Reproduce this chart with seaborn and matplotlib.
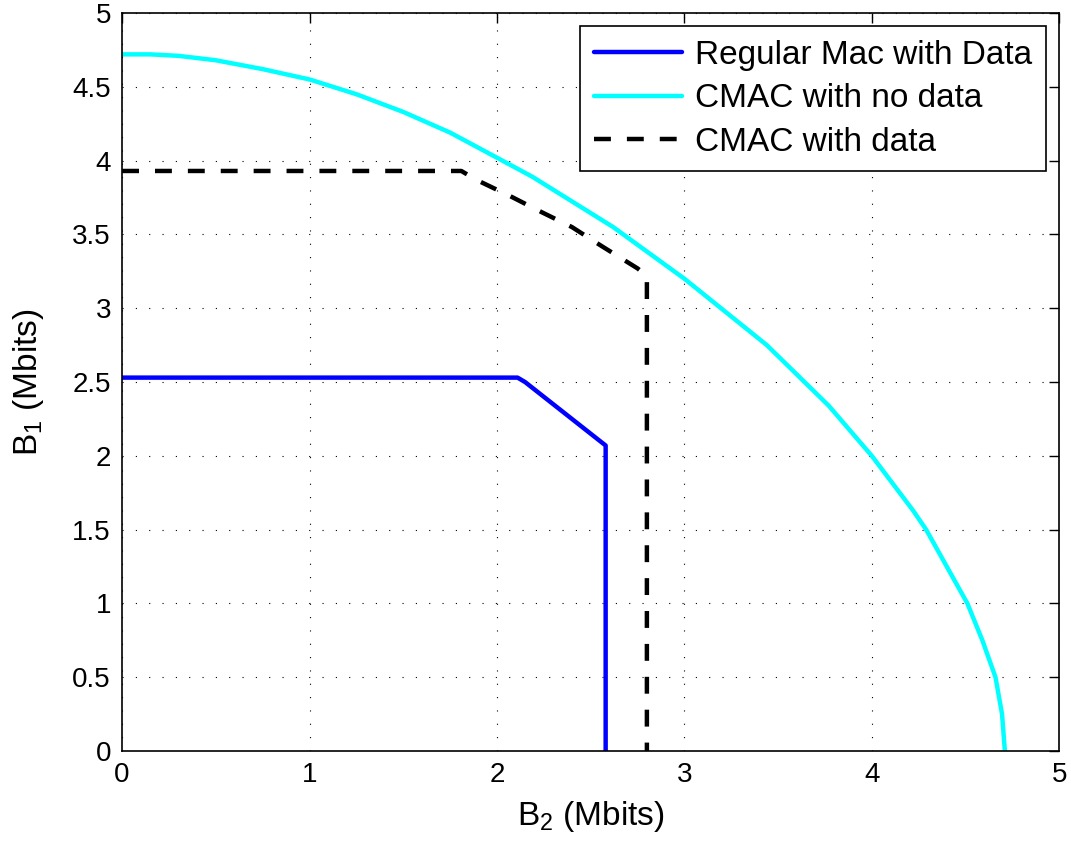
import pandas as pd
import matplotlib
matplotlib.use("Agg")
import matplotlib.pyplot as plt
import seaborn as sns

# --- Data ---
regular_x = [0.0, 2.11, 2.15, 2.58, 2.58]
regular_y = [2.53, 2.53, 2.50, 2.07, 0.0]

cmac_nodata_x = [0.0, 0.15, 0.3, 0.5, 0.75, 1.0, 1.25, 1.5, 1.75, 2.0, 2.19, 2.62,
                 3.0, 3.44, 3.77, 4.0, 4.22, 4.29, 4.4, 4.51, 4.59, 4.66, 4.695, 4.71]
cmac_nodata_y = [4.72, 4.72, 4.71, 4.68, 4.62, 4.55, 4.45, 4.33, 4.19, 4.02, 3.89, 3.55,
                 3.2, 2.75, 2.34, 2.0, 1.63, 1.5, 1.25, 1.0, 0.75, 0.5, 0.25, 0.0]

cmac_data_x = [0.0, 1.81, 1.89, 2.07, 2.24, 2.40, 2.56, 2.75, 2.80, 2.80]
cmac_data_y = [3.93, 3.93, 3.87, 3.76, 3.65, 3.55, 3.42, 3.27, 3.22, 0.0]

series_names = ["Regular Mac with Data", "CMAC with no data", "CMAC with data"]

frames = []
for name, xs, ys in zip(series_names,
                        [regular_x, cmac_nodata_x, cmac_data_x],
                        [regular_y, cmac_nodata_y, cmac_data_y]):
    frames.append(pd.DataFrame({"B2": xs, "B1": ys, "series": name}))
df = pd.concat(frames, ignore_index=True)

sns.set_style("white")
plt.rcParams["font.family"] = ["Liberation Sans", "DejaVu Sans"]
plt.rcParams["mathtext.default"] = "regular"
for key in ["text.color", "axes.labelcolor", "xtick.color", "ytick.color"]:
    plt.rcParams[key] = "black"

fig = plt.figure(figsize=(10.71, 8.52), dpi=100)
ax = fig.add_axes([0.114, 0.1185, 0.875, 0.8662])

palette = {"Regular Mac with Data": "#0000ff",
           "CMAC with no data": "#00ffff",
           "CMAC with data": "#000000"}
sns.lineplot(data=df, x="B2", y="B1", hue="series", style="series",
             palette=palette, sort=False, estimator=None, lw=3.2,
             dashes={"Regular Mac with Data": "", "CMAC with no data": "",
                     "CMAC with data": (3.8, 3.6)},
             hue_order=series_names, ax=ax)

ax.set_xlim(0, 5)
ax.set_ylim(0, 5)
ax.set_xticks([0, 1, 2, 3, 4, 5])
ax.set_xticklabels(["0", "1", "2", "3", "4", "5"])
ax.set_yticks([0, 0.5, 1, 1.5, 2, 2.5, 3, 3.5, 4, 4.5, 5])
ax.set_yticklabels(["0", "0.5", "1", "1.5", "2", "2.5", "3", "3.5", "4", "4.5", "5"])
ax.grid(True, color="black", linestyle=(0, (1, 11)), linewidth=0.8)
ax.tick_params(direction="in", length=7, width=1, labelsize=20,
               top=True, right=True, pad=8, colors="black")
for s in ax.spines.values():
    s.set_visible(True)
    s.set_color("black")
    s.set_linewidth(1.2)

ax.set_xlabel("B$_2$ (Mbits)", fontsize=24, labelpad=8)
ax.set_ylabel("B$_1$ (Mbits)", fontsize=24, labelpad=19)

leg = ax.legend(loc="upper right", fontsize=24, frameon=True, fancybox=False,
                edgecolor="black", framealpha=1, handlelength=2.65,
                borderaxespad=0.4, labelspacing=0.38, handletextpad=0.4,
                borderpad=0.4)
leg.get_frame().set_linewidth(1.2)

fig.savefig("out.png", dpi=100)
